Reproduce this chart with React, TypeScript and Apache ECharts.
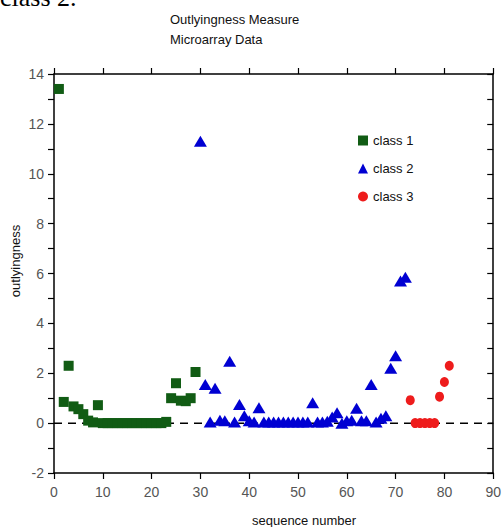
import React, { useEffect, useRef } from "react";
import * as echarts from "echarts";

const class1X = [1, 2, 3, 4, 5, 6, 7, 8, 9, 10, 11, 12, 13, 14, 15, 16, 17, 18, 19, 20, 21, 22, 23, 24, 25, 26, 27, 28, 29];
const class1Y = [13.4, 0.85, 2.3, 0.67, 0.56, 0.36, 0.1, 0.03, 0.72, 0, 0, 0, 0, 0, 0, 0, 0, 0, 0, 0, 0, 0, 0.05, 1.0, 1.6, 0.9, 0.88, 1.0, 2.05];

const class2X = [30, 31, 32, 33, 34, 35, 36, 37, 38, 39, 40, 41, 42, 43, 44, 45, 46, 47, 48, 49, 50, 51, 52, 53, 54, 55, 56, 57, 58, 59, 60, 61, 62, 63, 64, 65, 66, 67, 68, 69, 70, 71, 72];
const class2Y = [11.3, 1.55, 0.05, 1.4, 0.12, 0.1, 2.48, 0.05, 0.75, 0.3, 0.1, 0.05, 0.62, 0.05, 0.05, 0.05, 0.05, 0.05, 0.05, 0.05, 0.05, 0.05, 0.05, 0.82, 0.05, 0.05, 0.08, 0.25, 0.42, 0.0, 0.1, 0.12, 0.6, 0.1, 0.1, 1.55, 0.05, 0.2, 0.3, 2.2, 2.7, 5.7, 5.85];

const class3X = [73, 74, 75, 76, 77, 78, 79, 80, 81];
const class3Y = [0.92, 0, 0, 0, 0, 0, 1.06, 1.65, 2.3];

const xTicksMin = 0;
const xTicksMax = 90;
const yMin = -2;
const yMax = 14;

const zip = (xs: number[], ys: number[]) => xs.map((x, i) => [x, ys[i]]);

export default function App() {
  const ref = useRef<HTMLDivElement>(null);
  useEffect(() => {
    if (!ref.current) return;
    const chart = echarts.init(ref.current, null, { renderer: "svg" });
    const font = "Liberation Sans";
    const axisLine = { show: true, onZero: false, lineStyle: { color: "#000", width: 1.5 } };
    chart.setOption({
      animation: false,
      backgroundColor: "#fff",
      textStyle: { fontFamily: font },
      grid: { left: 54, right: 8, top: 74, bottom: 54, containLabel: false },
      legend: {
        orient: "vertical",
        left: 358,
        top: 134,
        padding: 0,
        itemGap: 15,
        itemWidth: 10,
        itemHeight: 10,
        itemTextGap: 15,
        textStyle: { fontSize: 13, color: "#111", fontFamily: font },
        data: [
          { name: "class 1", icon: "rect" },
          { name: "class 2", icon: "triangle" },
          { name: "class 3", icon: "circle" },
        ],
      },
      xAxis: [
        {
          type: "value",
          min: xTicksMin,
          max: xTicksMax,
          interval: 10,
          position: "bottom",
          axisLine,
          axisTick: { show: true, inside: false, length: 6, lineStyle: { color: "#000", width: 1.2 } },
          axisLabel: { show: true, color: "#555", fontSize: 14, margin: 12, fontFamily: font },
          splitLine: { show: false },
        },
        {
          type: "value",
          min: xTicksMin,
          max: xTicksMax,
          interval: 10,
          position: "top",
          axisLine,
          axisTick: { show: true, inside: false, length: 6, lineStyle: { color: "#000", width: 1.2 } },
          axisLabel: { show: false },
          splitLine: { show: false },
        },
      ],
      yAxis: [
        {
          type: "value",
          min: yMin,
          max: yMax,
          interval: 2,
          position: "left",
          axisLine,
          axisTick: { show: true, inside: false, length: 6, lineStyle: { color: "#000", width: 1.2 } },
          minorTick: { show: true, splitNumber: 2, length: 6, lineStyle: { color: "#000", width: 1.2 } },
          axisLabel: { show: true, color: "#555", fontSize: 14, margin: 10, fontFamily: font },
          splitLine: { show: false },
        },
        {
          type: "value",
          min: yMin,
          max: yMax,
          interval: 1,
          position: "right",
          axisLine,
          axisTick: { show: true, inside: true, length: 6, lineStyle: { color: "#000", width: 1.2 } },
          axisLabel: { show: false },
          splitLine: { show: false },
        },
      ],
      series: [
        {
          name: "zero",
          type: "line",
          data: [[xTicksMin, 0], [xTicksMax, 0]],
          symbol: "none",
          lineStyle: { color: "#000", width: 1.5, type: [8, 6] },
          z: 1,
          silent: true,
        },
        {
          name: "class 1",
          type: "scatter",
          symbol: "rect",
          symbolSize: [10, 10],
          itemStyle: { color: "#115c14", opacity: 1 },
          data: zip(class1X, class1Y),
          z: 3,
        },
        {
          name: "class 2",
          type: "scatter",
          symbol: "triangle",
          symbolSize: [13, 11],
          itemStyle: { color: "#0000d2", opacity: 1 },
          data: zip(class2X, class2Y),
          z: 3,
        },
        {
          name: "class 3",
          type: "scatter",
          symbol: "circle",
          symbolSize: [9, 10],
          itemStyle: { color: "#ee1c1c", opacity: 1 },
          data: zip(class3X, class3Y),
          z: 3,
        },
      ],
      graphic: [
        {
          type: "text",
          left: 0,
          top: -16,
          style: { text: "class 2.", font: "26px 'Liberation Serif'", fill: "#000" },
        },
        {
          type: "text",
          x: 170,
          y: 19,
          style: { text: "Outlyingness Measure", font: "13px 'Liberation Sans'", fill: "#111", verticalAlign: "middle" },
        },
        {
          type: "text",
          x: 170,
          y: 39,
          style: { text: "Microarray Data", font: "13px 'Liberation Sans'", fill: "#111", verticalAlign: "middle" },
        },
        {
          type: "text",
          x: 15,
          y: 261,
          rotation: Math.PI / 2,
          style: { text: "outlyingness", font: "13px 'Liberation Sans'", fill: "#111", align: "center", verticalAlign: "middle" },
        },
        {
          type: "text",
          x: 304,
          y: 520,
          style: { text: "sequence number", font: "13px 'Liberation Sans'", fill: "#111", align: "center", verticalAlign: "middle" },
        },
      ],
    });
    return () => chart.dispose();
  }, []);
  return <div ref={ref} style={{ position: "fixed", left: 0, top: 0, width: 504, height: 527 }} />;
}
